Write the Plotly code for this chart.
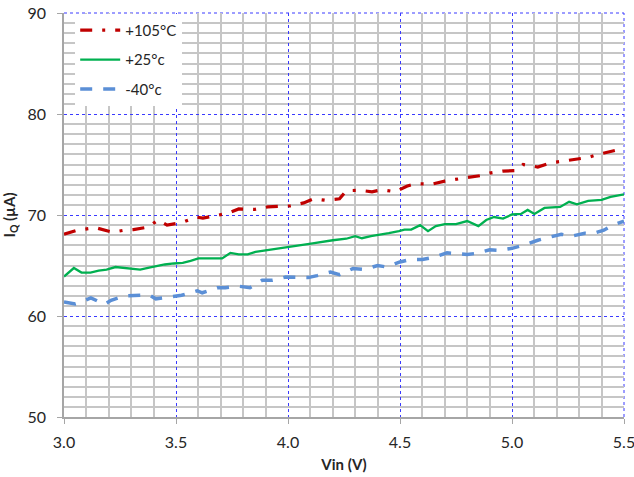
import plotly.graph_objects as go

# ---- data ----
red_x = [3.00, 3.06, 3.14, 3.16, 3.215, 3.27, 3.31, 3.375, 3.42, 3.46, 3.525, 3.59, 3.62, 3.68,
         3.735, 3.78, 3.85, 3.91, 3.94, 4.01, 4.07, 4.115, 4.17, 4.23, 4.26, 4.32, 4.375, 4.42,
         4.48, 4.53, 4.57, 4.64, 4.70, 4.735, 4.795, 4.86, 4.90, 4.96, 5.02, 5.05, 5.115, 5.17,
         5.22, 5.28, 5.34, 5.385, 5.44, 5.50]
red_y = [68.1, 68.5, 68.75, 68.65, 68.3, 68.5, 68.55, 68.8, 69.5, 69.0, 69.25, 69.8, 69.7, 69.95,
         70.2, 70.6, 70.55, 70.8, 70.85, 70.9, 71.2, 71.6, 71.45, 71.6, 72.4, 72.45, 72.3, 72.5,
         72.3, 72.85, 73.1, 73.05, 73.35, 73.45, 73.7, 73.9, 74.15, 74.35, 74.4, 75.0, 74.75, 75.15,
         75.3, 75.5, 75.7, 76.0, 76.25, 76.6]

green_x = [3.00, 3.044, 3.078, 3.118, 3.155, 3.19, 3.23, 3.27, 3.30, 3.34, 3.38, 3.41, 3.45, 3.49,
           3.53, 3.565, 3.60, 3.64, 3.706, 3.743, 3.78, 3.82, 3.855, 3.90, 4.00, 4.11, 4.20, 4.26,
           4.30, 4.33, 4.37, 4.405, 4.45, 4.495, 4.52, 4.55, 4.59, 4.625, 4.66, 4.70, 4.75, 4.80,
           4.85, 4.885, 4.92, 4.96, 5.00, 5.04, 5.07, 5.10, 5.145, 5.215, 5.255, 5.29, 5.34, 5.40,
           5.44, 5.50]
green_y = [63.9, 64.75, 64.3, 64.3, 64.5, 64.6, 64.85, 64.75, 64.75, 64.6, 64.8, 64.95, 65.1, 65.2,
           65.25, 65.45, 65.7, 65.7, 65.7, 66.25, 66.1, 66.1, 66.35, 66.5, 66.8, 67.2, 67.5, 67.65,
           67.9, 67.7, 67.9, 68.0, 68.2, 68.4, 68.55, 68.55, 69.0, 68.4, 68.9, 69.1, 69.1, 69.4,
           68.9, 69.5, 69.8, 69.65, 70.05, 70.1, 70.5, 70.1, 70.7, 70.8, 71.3, 71.05, 71.4, 71.5,
           71.8, 72.05]

blue_x = [3.00, 3.05, 3.08, 3.12, 3.18, 3.21, 3.27, 3.32, 3.38, 3.41, 3.475, 3.525, 3.595, 3.617,
          3.684, 3.72, 3.78, 3.83, 3.885, 3.93, 3.99, 4.03, 4.09, 4.13, 4.19, 4.23, 4.29, 4.34,
          4.40, 4.44, 4.50, 4.545, 4.60, 4.65, 4.71, 4.80, 4.84, 4.90, 4.94, 5.00, 5.05, 5.115,
          5.16, 5.22, 5.265, 5.325, 5.36, 5.41, 5.45, 5.50]
blue_y = [61.4, 61.2, 61.4, 61.8, 61.15, 61.55, 62.0, 62.05, 62.1, 61.7, 61.9, 62.05, 62.5, 62.3,
          62.8, 62.8, 62.95, 62.8, 63.55, 63.55, 63.85, 63.85, 63.8, 64.0, 64.35, 64.1, 64.7, 64.6,
          65.0, 64.85, 65.35, 65.6, 65.6, 65.8, 66.25, 66.1, 66.2, 66.55, 66.5, 66.7, 67.0, 67.5,
          67.75, 68.1, 67.9, 68.2, 68.15, 68.5, 69.0, 69.4]

series_names = ["+105°C", "+25°c", "-40°c"]
x_ticks = [3.0, 3.5, 4.0, 4.5, 5.0, 5.5]
x_tick_labels = ["3.0", "3.5", "4.0", "4.5", "5.0", "5.5"]
y_ticks = [50, 60, 70, 80, 90]

# minor grid positions (every 0.1 V / 1 µA, skipping the major ones)
x_minor = [round(3.0 + i * 0.1, 2) for i in range(26) if i % 5]
y_minor = [50 + i for i in range(41) if i % 10]

FONT = "Lato, 'Open Sans', sans-serif"
TXT = "#262626"
MAJOR = "#3A3AFF"

fig = go.Figure()
fig.add_trace(go.Scatter(x=red_x, y=red_y, mode="lines", name=series_names[0],
                         legendgroup="a",
                         line=dict(color="#C00000", width=3.2, dash="12px,10px,3px,10px")))
fig.add_trace(go.Scatter(x=green_x, y=green_y, mode="lines", name=series_names[1],
                         legendgroup="b",
                         line=dict(color="#00B050", width=2.3)))
fig.add_trace(go.Scatter(x=blue_x, y=blue_y, mode="lines", name=series_names[2],
                         legendgroup="c",
                         line=dict(color="#5B8FD6", width=3.5, dash="12px,11px")))

# dotted frame on the top and right edges (major grid at the range ends)
fig.add_shape(type="line", xref="paper", yref="paper", x0=0, x1=1, y0=1, y1=1,
              line=dict(color=MAJOR, width=1, dash="dot"), layer="below")
fig.add_shape(type="line", xref="paper", yref="paper", x0=1, x1=1, y0=0, y1=1,
              line=dict(color=MAJOR, width=1, dash="dot"), layer="below")

fig.update_layout(
    width=634, height=477,
    margin=dict(l=64, r=10, t=13, b=60),
    paper_bgcolor="white", plot_bgcolor="white",
    font=dict(family=FONT, size=16, color=TXT),
    showlegend=True,
    legend=dict(x=0.02, y=0.998, xanchor="left", yanchor="top", bgcolor="white",
                font=dict(family=FONT, size=15, color=TXT),
                tracegroupgap=7, itemwidth=40, traceorder="grouped"),
    xaxis=dict(range=[3.0, 5.5], tickvals=x_ticks, ticktext=x_tick_labels, automargin=False,
               ticklabeloverflow="allow",
               showgrid=True, gridcolor=MAJOR, gridwidth=1, griddash="dot",
               minor=dict(tickmode="array", tickvals=x_minor, showgrid=True, gridcolor="#C6C6C6",
                          gridwidth=1.5, griddash="solid"),
               showline=True, linecolor="#A6A6A6", linewidth=1.5,
               ticks="outside", ticklen=5, tickcolor="#A6A6A6", ticklabelstandoff=5,
               zeroline=False,
               title=dict(text="<b>Vin (V)</b>", font=dict(size=15, family=FONT, color=TXT), standoff=10)),
    yaxis=dict(range=[50, 90], tickvals=y_ticks, automargin=False,
               ticklabeloverflow="allow",
               showgrid=True, gridcolor=MAJOR, gridwidth=1, griddash="dot",
               minor=dict(tickmode="array", tickvals=y_minor, showgrid=True, gridcolor="#C6C6C6",
                          gridwidth=1.5, griddash="solid"),
               showline=True, linecolor="#A6A6A6", linewidth=1.5,
               ticks="outside", ticklen=5, tickcolor="#A6A6A6", ticklabelstandoff=8,
               zeroline=False,
               title=dict(text="<b>I<sub>Q</sub> (µA)</b>", font=dict(size=15, family=FONT, color=TXT), standoff=8)),
)

fig.write_html("out.html", config={"displayModeBar": False},
               post_script="document.body.style.margin='0px';")
